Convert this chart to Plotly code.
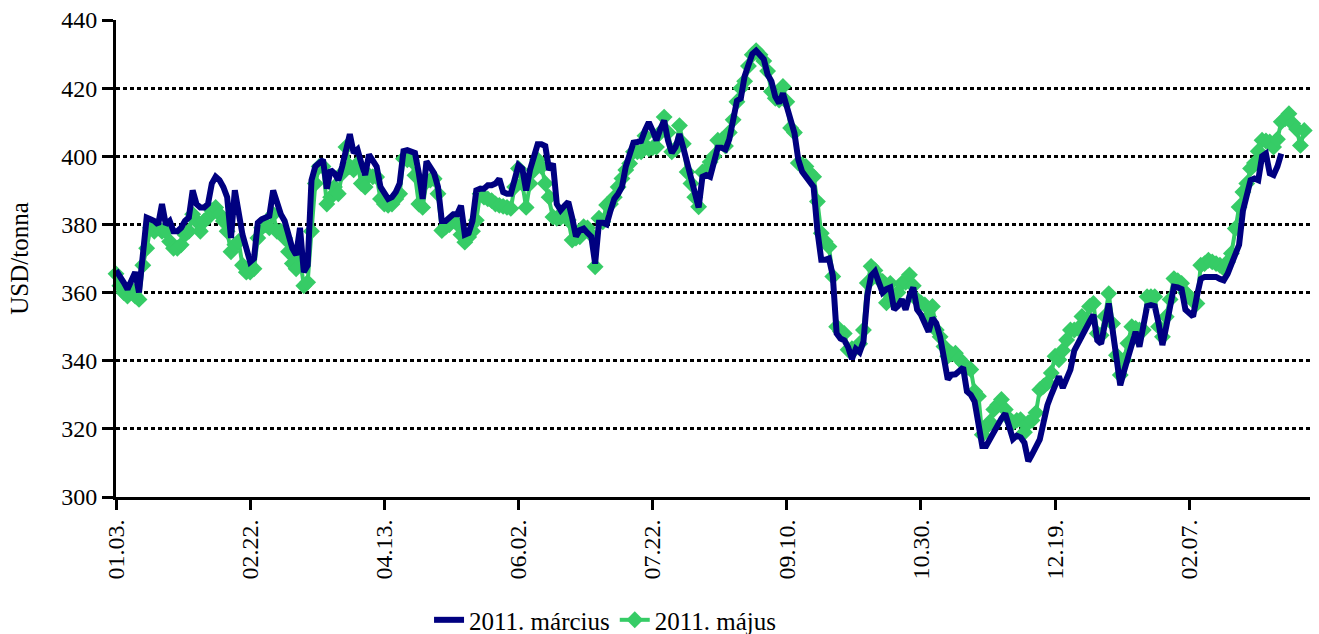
import plotly.graph_objects as go

tick_labels = ["01.03.", "02.22.", "04.13.", "06.02.", "07.22.", "09.10.", "10.30.", "12.19.", "02.07."]
tick_step = 35

march_2011 = [
    366.5, 365, 363, 361, 364, 366, 360, 372, 382, 381.5,
    381, 380, 386, 380, 381, 378, 378, 379, 381, 382,
    390, 386, 385, 385, 386, 392, 394, 393, 391, 388,
    376, 390, 382, 377, 373, 369, 370, 380.5, 381.5, 382,
    382.5, 390, 386, 383, 381, 376, 373, 371, 379, 366,
    368, 393, 397, 398, 399, 390.5, 396, 395, 393, 397,
    402, 406.5, 401, 402, 398, 394.5, 400.5, 399, 397, 391,
    389, 387.5, 388, 389.5, 392, 401.5, 401.8, 401.5, 401, 395,
    387.5, 398.5, 397, 395, 391, 381, 381, 382, 383, 383,
    385.5, 377, 377.5, 381, 390, 390.5, 390.5, 391.5, 391.5, 392,
    393.4, 389.5, 389, 389, 394, 397.4, 396.4, 390, 396, 399.8,
    403.5, 403.5, 403, 396, 397.9, 386, 384.2, 385.5, 386.6, 382,
    376.5, 378.3, 378.8, 377.5, 376.4, 368.5, 380.5, 380.5, 380, 384,
    387.5, 389, 391, 397, 401.3, 404, 404.2, 404.5, 407.6, 410,
    407.5, 404.7, 408, 410.5, 404.7, 401, 402.7, 406.5, 402.5, 398,
    393, 389, 385, 394, 394.5, 394, 398, 402.5, 402.5, 402,
    405, 412, 416.3, 417, 423.5, 426.8, 430, 431, 429.5, 428.5,
    424, 422, 417.5, 415.6, 418.5, 414, 410, 406.8, 399, 395.5,
    394, 392.5, 391, 378, 369.6, 369.6, 370, 365, 348, 346.5,
    346, 344, 340.5, 343.5, 342.5, 345.6, 359, 365, 366.2, 363,
    360, 361, 361.5, 355, 356, 358, 355, 359, 361.5, 355,
    353.5, 351, 348.5, 352.5, 351, 347, 341, 334.5, 335.9, 336,
    337, 338, 331, 330, 328, 322, 315, 315, 317, 319.8,
    321.8, 323, 324.5, 321, 317, 318, 317.5, 315.9, 310.5, 312.5,
    315, 316.9, 322, 327, 330, 332.5, 335.4, 332, 335, 337.4,
    343, 345.2, 348, 350, 351.5, 353.5, 346, 345, 350, 356.8,
    349, 341, 332.8, 337, 341, 346, 348.5, 344.1, 350.9, 356,
    356.3, 356, 351, 344.6, 350, 355, 361.7, 361.5, 361, 355,
    354, 353, 359, 364, 364.6, 364.6, 364.6, 364.6, 364, 363.6,
    365.5, 368, 370.5, 374, 384, 389, 393, 393.5, 393, 400,
    400.8, 395, 394.5, 397, 400.8,
]

may_2011 = [
    365.5, 362, 360, 359, 361, 359, 358, 368, 373, 379,
    378, 379, 378, 378, 375, 373, 373, 374, 377, 378,
    383, 381, 378, 381, 382, 384, 385, 383, 381, 378,
    372, 374, 375, 368, 366, 366, 367, 376, 379, 380,
    379, 383, 378, 378, 376, 372, 368.5, 367, 370, 362,
    363, 378, 392, 397, 397, 386, 388, 391, 389, 395,
    402.7, 397, 396, 397.8, 392, 391, 394.4, 394, 393.9, 387.5,
    386, 385.6, 386, 387.5, 389, 399.3, 399, 398.8, 394.4, 386,
    385, 392.5, 393, 393.4, 389, 378.2, 379.2, 380, 381.2, 380.2,
    377, 374.8, 376.3, 378, 381.2, 389, 388, 387.5, 387, 386,
    385.6, 385.3, 385, 384.7, 391, 396.4, 392, 385, 392, 395.9,
    399, 396.9, 392, 388, 382.2, 381.8, 382, 383, 381.3, 375.4,
    376, 376.4, 379.3, 379, 377, 367.6, 381.8, 380.8, 385.7, 386,
    388, 391, 393.5, 396, 397.9, 401.3, 401.3, 401.3, 406, 402.2,
    402.5, 402.7, 407, 411.5, 407, 401.3, 402.2, 409, 403.7, 395.4,
    392, 388, 385.2, 395.4, 396, 398.3, 400, 404.7, 404.8, 403,
    407, 410.7, 416, 420, 422, 426.5, 429.8, 431, 429.8, 428,
    425, 419, 417, 416.5, 420.5, 416, 408.3, 407, 398, 397.5,
    397, 395, 394, 386.7, 377.4, 375, 373.5, 364.7, 350, 348.6,
    348, 343.2, 343.5, 343.7, 345, 349, 362.8, 367.7, 366.5, 364,
    363.3, 357, 362.7, 358, 360, 362.7, 363, 365.2, 362, 357.9,
    357, 356.4, 353, 355.9, 349, 347, 344.2, 341.3, 342, 342.2,
    340.5, 339.3, 338, 337.4, 331, 329.6, 318.3, 320.5, 322, 325.7,
    327, 328.6, 325.7, 323, 321.8, 322.5, 322.7, 319, 321.8, 322.5,
    324.7, 331.5, 332.5, 333.5, 336.4, 341.3, 340.3, 343, 346.1, 349,
    349, 349.5, 353, 352, 355.9, 356.8, 348, 347.5, 353, 359.7,
    350.9, 341.6, 335.8, 340.2, 345.1, 350, 349.5, 349, 349, 358.8,
    358.8, 358.8, 350, 347, 352.9, 358, 364.1, 363.5, 362.7, 360,
    358.8, 357.5, 356.8, 368, 368.5, 369.5, 369, 368.5, 368, 367.1,
    369, 371.5, 378.8, 385.1, 389.5, 392, 396.4, 398, 401.5, 404.7,
    404.5, 404.2, 402.7, 405, 410.1, 411, 412.5, 409.6, 408, 403.2,
    407.6,
]

series_names = ["2011. március", "2011. május"]

x_march = list(range(len(march_2011)))
x_may = list(range(len(may_2011)))
tick_vals = [i * tick_step for i in range(len(tick_labels))]

font_family = "Liberation Serif"

fig = go.Figure()
fig.add_trace(go.Scatter(
    x=x_may, y=may_2011, name=series_names[1], mode="lines+markers",
    line=dict(color="#36CC66", width=4),
    marker=dict(symbol="diamond", size=13, color="#36CC66"),
    cliponaxis=False, legendrank=2,
))
fig.add_trace(go.Scatter(
    x=x_march, y=march_2011, name=series_names[0], mode="lines",
    line=dict(color="#000080", width=6),
    cliponaxis=False, legendrank=1,
))

fig.update_layout(
    width=1319, height=634,
    margin=dict(l=116, r=9, t=20, b=137, autoexpand=False),
    paper_bgcolor="white", plot_bgcolor="white",
    font=dict(family=font_family, size=24, color="black"),
    showlegend=True,
    legend=dict(orientation="h", x=0.41, xanchor="center", y=-0.258, yanchor="middle",
                font=dict(family=font_family, size=25), itemwidth=30, tracegroupgap=0),
)
fig.update_xaxes(
    range=[0, 311.5], tickmode="array", tickvals=tick_vals, ticktext=tick_labels,
    tickangle=-90, ticks="outside", ticklen=10, tickwidth=3, tickcolor="black",
    showline=True, linecolor="black", linewidth=3, showgrid=False, zeroline=False,
    tickfont=dict(family=font_family, size=24), automargin=False,
)
fig.update_yaxes(
    range=[300, 440], dtick=20, tick0=300, ticks="outside", ticklen=11, tickwidth=3,
    tickcolor="black", showline=True, linecolor="black", linewidth=3,
    showgrid=True, gridcolor="black", gridwidth=2.6, griddash="4px,3px", zeroline=False,
    title=dict(text="USD/tonna", font=dict(family=font_family, size=25), standoff=26),
    tickfont=dict(family=font_family, size=24), automargin=False,
)

fig.write_html(
    "out.html",
    config={"displayModeBar": False},
    post_script="document.body.style.margin='0';document.body.style.overflow='hidden';",
)
